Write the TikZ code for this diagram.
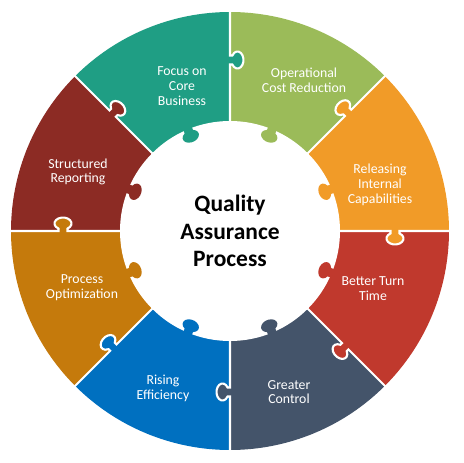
\documentclass[tikz,border=0pt]{standalone}
\usepackage{fontspec}
\setmainfont{Carlito}
\usepackage{tikz}
\definecolor{qteal}{RGB}{31,158,132}
\definecolor{qgreen}{RGB}{155,187,89}
\definecolor{qorange}{RGB}{241,155,40}
\definecolor{qred}{RGB}{192,57,45}
\definecolor{qslate}{RGB}{68,84,106}
\definecolor{qblue}{RGB}{0,112,192}
\definecolor{qbrown}{RGB}{197,122,12}
\definecolor{qmaroon}{RGB}{140,43,36}
\tikzstyle{seglabel} = [text=white, align=center, font=\fontsize{9.8}{10.5}\selectfont]
\tikzstyle{titlebox} = [text=black, align=center, font=\fontsize{16.7}{19.5}\selectfont\bfseries]
\tikzstyle{gapline} = [draw=white, line width=1.5pt]
\tikzstyle{knobarc} = [start angle=238, end angle=-58, x radius=8.5, y radius=6]

\begin{document}
\begin{tikzpicture}[x=0.025cm, y=0.025cm]
    \useasboundingbox (-230,-232) rectangle (233,231);

    % the eight pieces
    \foreach \a/\col in {90/qgreen, 45/qorange, 0/qred, -45/qslate, -90/qblue, -135/qbrown, 180/qmaroon, 135/qteal}
        \fill[\col] (0,0) -- (\a:219) arc[start angle=\a, delta angle=-45, radius=219] -- cycle;

    % knobs between pieces
    \foreach \a/\r/\s/\col in {90/171/-1/qteal, 45/167/1/qorange, 0/165/-1/qorange, -45/163/-1/qred, -90/161/-1/qslate, -135/165/-1/qblue, 180/167/-1/qbrown, 135/166/-1/qmaroon}
        \fill[\col, rotate=\a, yscale=\s] ({\r-4.5},-2) -- ({\r-4.5},2.4) arc[knobarc] -- ({\r+4.5},-2) -- cycle;

    \fill[white] (0,0) circle[radius=110];

    % knobs on the hub
    \foreach \a/\col in {112.5/qteal, 67.5/qgreen, 22.5/qorange, -22.5/qred, -67.5/qslate, -112.5/qblue, -157.5/qbrown, 157.5/qmaroon}
        \fill[\col, rotate=\a+90] (-4.5,-113) -- (-4.5,-107.6) arc[knobarc] -- (4.5,-113) -- cycle;

    % white joints
    \foreach \a/\r/\s in {90/171/-1, 45/167/1, 0/165/-1, -45/163/-1, -90/161/-1, -135/165/-1, 180/167/-1, 135/166/-1}
        \draw[gapline, rotate=\a, yscale=\s] (108,0) -- ({\r-4.5},0) -- ({\r-4.5},2.4) arc[knobarc] -- ({\r+4.5},0) -- (222,0);

    \node[seglabel] (core) at (-48,145) {Focus on\\Core\\Business};
    \node[seglabel] (cost) at (74,151) {Operational\\Cost Reduction};
    \node[seglabel] (internal) at (150,46) {Releasing\\Internal\\Capabilities};
    \node[seglabel] (turn) at (143,-58) {Better Turn\\Time};
    \node[seglabel] (control) at (59,-161) {Greater\\Control};
    \node[seglabel] (efficiency) at (-67,-157) {Rising\\Efficiency};
    \node[seglabel] (optim) at (-148,-57) {Process\\Optimization};
    \node[seglabel] (report) at (-152,59) {Structured\\Reporting};
    \node[titlebox] (title) at (0,0) {Quality\\Assurance\\Process};
\end{tikzpicture}
\end{document}
